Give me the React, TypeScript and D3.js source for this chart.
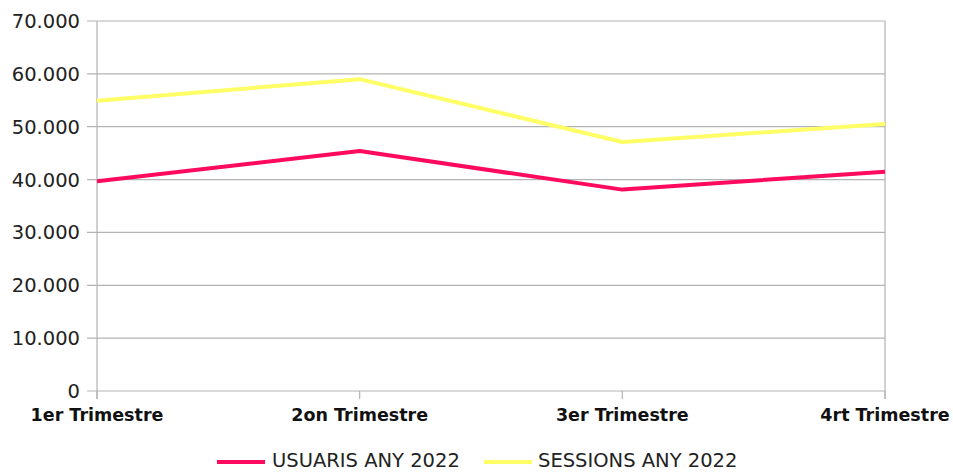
import React from "react";
import * as d3 from "d3";

const categories = ["1er Trimestre", "2on Trimestre", "3er Trimestre", "4rt Trimestre"];
const usuaris = [39700, 45400, 38100, 41500];
const sessions = [54900, 59000, 47100, 50500];
const yTicks = [0, 10000, 20000, 30000, 40000, 50000, 60000, 70000];
const seriesNames = ["USUARIS ANY 2022", "SESSIONS ANY 2022"];
const seriesColors = ["#ff0a5e", "#ffff66"];

const W = 953;
const H = 473;
const left = 97;
const right = 885;
const top = 21;
const bottom = 391;

export default function App() {
  const x = d3.scalePoint<string>().domain(categories).range([left, right]).padding(0);
  const y = d3.scaleLinear().domain([0, 70000]).range([bottom, top]);
  const fmt = (v: number) => (v === 0 ? "0" : d3.format(",")(v).replace(/,/g, "."));
  const line = d3
    .line<number>()
    .x((_, i) => x(categories[i]) as number)
    .y((d) => y(d));
  const series = [usuaris, sessions];
  const font = "'DejaVu Sans', sans-serif";

  return (
    <svg
      width={W}
      height={H}
      style={{ position: "absolute", left: 0, top: 0, background: "#fff" }}
    >
      {yTicks.map((t) => (
        <g key={t}>
          <line x1={left - 10} x2={right} y1={y(t)} y2={y(t)} stroke="#b3b3b3" strokeWidth={1.2} />
          <text
            x={80}
            y={y(t)}
            dy="0.36em"
            textAnchor="end"
            fontFamily={font}
            fontSize={19.5}
            fill="#222"
          >
            {fmt(t)}
          </text>
        </g>
      ))}
      <line x1={left} x2={left} y1={top} y2={bottom + 8} stroke="#b3b3b3" strokeWidth={1.2} />
      <line x1={right} x2={right} y1={top} y2={bottom + 8} stroke="#b3b3b3" strokeWidth={1.2} />
      {categories.map((c) => (
        <g key={c}>
          <line x1={x(c)} x2={x(c)} y1={bottom} y2={bottom + 8} stroke="#b3b3b3" strokeWidth={1.2} />
          <text
            x={x(c)}
            y={421}
            textAnchor="middle"
            fontFamily={font}
            fontWeight="bold"
            fontSize={17.5}
            fill="#111"
          >
            {c}
          </text>
        </g>
      ))}
      {series.map((s, i) => (
        <path
          key={i}
          d={line(s) || ""}
          fill="none"
          stroke={seriesColors[i]}
          strokeWidth={4}
          strokeLinejoin="round"
        />
      ))}
      {[
        { lx: 217, tx: 272 },
        { lx: 484, tx: 538 },
      ].map((p, i) => (
        <g key={i}>
          <line x1={p.lx} x2={p.lx + 48} y1={462} y2={462} stroke={seriesColors[i]} strokeWidth={4} />
          <text x={p.tx} y={467} fontFamily={font} fontSize={19.5} fill="#222">
            {seriesNames[i]}
          </text>
        </g>
      ))}
    </svg>
  );
}
